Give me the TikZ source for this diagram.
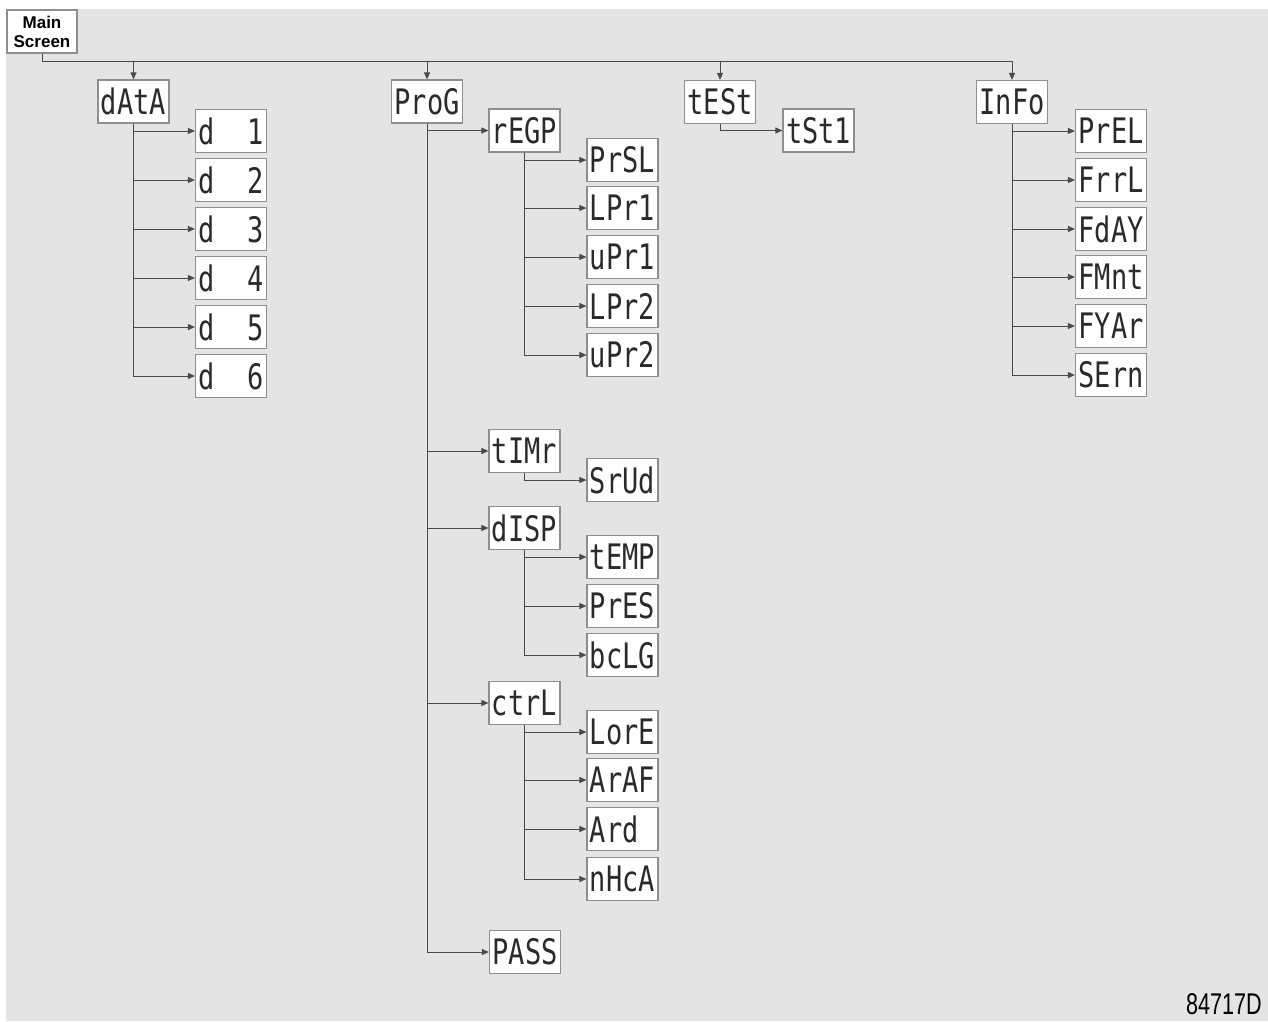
\documentclass[tikz,border=0pt]{standalone}
\usepackage{fontspec}
\usepackage{graphicx}
\setmainfont{Liberation Sans}
\newfontfamily\segfont{DejaVu Sans Mono}
\newfontfamily\narrowfont[FakeStretch=0.72]{Liberation Sans}
\usetikzlibrary{arrows.meta}
\definecolor{bg}{HTML}{E4E4E4}
\definecolor{boxline}{HTML}{8E8E8E}
\definecolor{conn}{HTML}{4A4A4A}
\definecolor{segtext}{HTML}{2A2A2A}
\newcommand\segtxt[1]{\scalebox{1}[1.3]{\segfont\fontsize{27}{27}\selectfont #1}}
\tikzset{
  dispbox/.style={draw=boxline, line width=1.2pt, fill=white, inner sep=0pt,
    minimum width=71pt, minimum height=43pt, text=segtext, font=\segfont},
  mainbox/.style={draw=boxline, line width=1.2pt, fill=white, inner sep=0pt,
    minimum width=70pt, minimum height=43pt, align=center,
    font=\bfseries\fontsize{17}{19}\selectfont},
  conline/.style={draw=conn, line width=1pt},
  arr/.style={conline, -{Triangle[length=7pt,width=6pt]}}
}
\begin{document}
\begin{tikzpicture}[x=1pt,y=-1pt]
\useasboundingbox (0,0) rectangle (1268,1021);
\fill[bg] (6,9) rectangle (1268,1021);

% nodes
\node[mainbox] (main) at (42,31.5) {Main\\Screen};

\node[dispbox] (data) at (133.5,101.5) {\segtxt{dAtA}};
\node[dispbox] (d1) at (231,131) {\segtxt{d~~1}};
\node[dispbox] (d2) at (231,180) {\segtxt{d~~2}};
\node[dispbox] (d3) at (231,229) {\segtxt{d~~3}};
\node[dispbox] (d4) at (231,278) {\segtxt{d~~4}};
\node[dispbox] (d5) at (231,327) {\segtxt{d~~5}};
\node[dispbox] (d6) at (231,376) {\segtxt{d~~6}};

\node[dispbox] (prog) at (427,101.5) {\segtxt{ProG}};
\node[dispbox] (regp) at (524.5,130.5) {\segtxt{rEGP}};
\node[dispbox] (prsl) at (622.5,160) {\segtxt{PrSL}};
\node[dispbox] (lpr1) at (622.5,208) {\segtxt{LPr1}};
\node[dispbox] (upr1) at (622.5,257) {\segtxt{uPr1}};
\node[dispbox] (lpr2) at (622.5,306) {\segtxt{LPr2}};
\node[dispbox] (upr2) at (622.5,355) {\segtxt{uPr2}};

\node[dispbox] (timr) at (524.5,451) {\segtxt{tIMr}};
\node[dispbox] (srud) at (622.5,480) {\segtxt{SrUd}};

\node[dispbox] (disp) at (524.5,528) {\segtxt{dISP}};
\node[dispbox] (temp) at (622.5,557) {\segtxt{tEMP}};
\node[dispbox] (pres) at (622.5,606) {\segtxt{PrES}};
\node[dispbox] (bclg) at (622.5,655) {\segtxt{bcLG}};

\node[dispbox] (ctrl) at (524.5,703) {\segtxt{ctrL}};
\node[dispbox] (lore) at (622.5,732) {\segtxt{LorE}};
\node[dispbox] (araf) at (622.5,780) {\segtxt{ArAF}};
\node[dispbox] (ard)  at (622.5,829) {\segtxt{Ard~}};
\node[dispbox] (nhca) at (622.5,879) {\segtxt{nHcA}};

\node[dispbox] (pass) at (525,952) {\segtxt{PASS}};

\node[dispbox] (test) at (720,102) {\segtxt{tESt}};
\node[dispbox] (tst1) at (818.5,130.5) {\segtxt{tSt1}};

\node[dispbox] (info) at (1012,102) {\segtxt{InFo}};
\node[dispbox] (prel) at (1111,131) {\segtxt{PrEL}};
\node[dispbox] (frrl) at (1111,180) {\segtxt{FrrL}};
\node[dispbox] (fday) at (1111,229) {\segtxt{FdAY}};
\node[dispbox] (fmnt) at (1111,277) {\segtxt{FMnt}};
\node[dispbox] (fyar) at (1111,326) {\segtxt{FYAr}};
\node[dispbox] (sern) at (1111,375) {\segtxt{SErn}};

\node[anchor=base east, font=\narrowfont\fontsize{30}{30}\selectfont, text=black, inner sep=0pt] (code) at (1262,1014) {84717D};

% main bus
\coordinate (bus) at (main.south |- 0,61);
\draw[conline] (main.south) -- (bus) -- (bus -| info.north);
\draw[arr] (bus -| data.north) -- (data.north);
\draw[arr] (bus -| prog.north) -- (prog.north);
\draw[arr] (bus -| test.north) -- (test.north);
\draw[arr] (bus -| info.north) -- (info.north);

% dAtA
\foreach \c in {d1,d2,d3,d4,d5,d6} \draw[arr] (data.south) |- (\c.west);

% ProG
\foreach \c in {regp,timr,disp,ctrl,pass} \draw[arr] (prog.south) |- (\c.west);
\foreach \c in {prsl,lpr1,upr1,lpr2,upr2} \draw[arr] (regp.south) |- (\c.west);
\draw[arr] (timr.south) |- (srud.west);
\foreach \c in {temp,pres,bclg} \draw[arr] (disp.south) |- (\c.west);
\foreach \c in {lore,araf,ard,nhca} \draw[arr] (ctrl.south) |- (\c.west);

% tESt
\draw[arr] (test.south) |- (tst1.west);

% InFo
\foreach \c in {prel,frrl,fday,fmnt,fyar,sern} \draw[arr] (info.south) |- (\c.west);
\end{tikzpicture}
\end{document}
